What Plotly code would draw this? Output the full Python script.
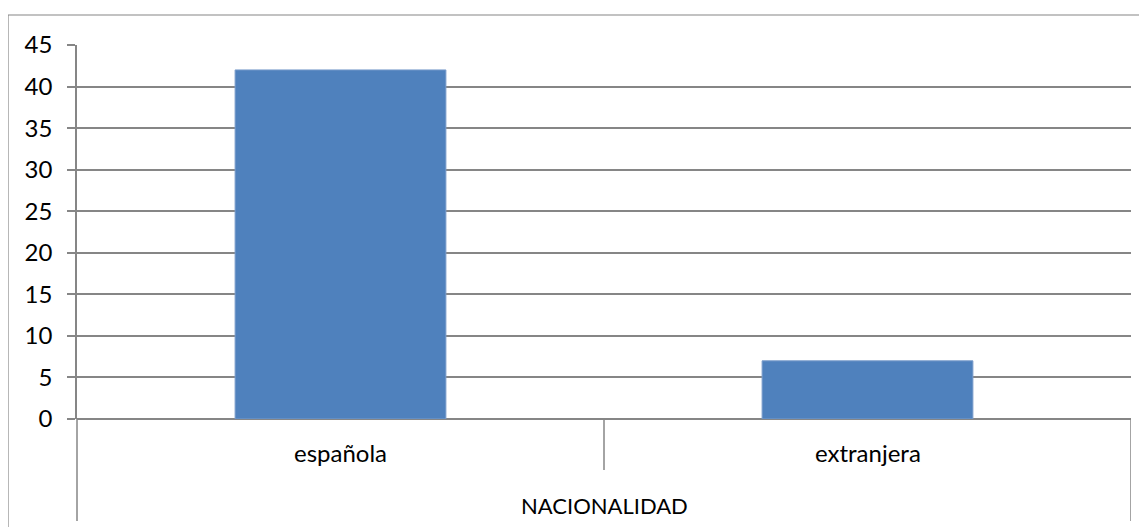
import plotly.graph_objects as go

categories = ["española", "extranjera"]
values = [42, 7]
group_label = "NACIONALIDAD"
y_ticks = [0, 5, 10, 15, 20, 25, 30, 35, 40, 45]

GRID = "#868686"
FONT = dict(family="Lato, Open Sans, sans-serif", size=24, color="#000000")
GROUP_FONT = dict(family="Lato, Open Sans, sans-serif", size=22, color="#000000")

fig = go.Figure(go.Bar(
    x=[0, 1], y=values, width=0.4,
    marker=dict(color="#4F81BD", line=dict(color="#7A9CCB", width=1)),
    hoverinfo="skip",
))

# the page adds an 8px body margin; work in reference pixel coords minus that offset
OFF = 8
W, H = 1147 - OFF, 527 - OFF
L, T = 77 - OFF, 45 - OFF
R = W - (1131 - OFF)
B = H - (419 - OFF)
pw, ph = W - L - R, H - T - B

def px_y(py):
    return (419 - py) / ph

def px_x(px):
    return (px - 77) / pw

shapes = [
    # outer chart border (top and left)
    dict(type="line", xref="paper", yref="paper", x0=px_x(8), x1=px_x(1160), y0=px_y(15), y1=px_y(15),
         line=dict(color=GRID, width=1.2)),
    dict(type="line", xref="paper", yref="paper", x0=px_x(8), x1=px_x(8), y0=px_y(15), y1=px_y(540),
         line=dict(color=GRID, width=1.2)),
    # y axis extension below
    dict(type="line", xref="paper", yref="paper", x0=0, x1=0, y0=0, y1=px_y(521),
         line=dict(color=GRID, width=1.5)),
    # divider between categories
    dict(type="line", xref="x", yref="paper", x0=0.5, x1=0.5, y0=0, y1=px_y(470),
         line=dict(color=GRID, width=1.5)),
    # right edge
    dict(type="line", xref="x", yref="paper", x0=1.5, x1=1.5, y0=0, y1=px_y(521),
         line=dict(color=GRID, width=1.5)),
]

annotations = []
for i, c in enumerate(categories):
    annotations.append(dict(x=i, y=px_y(453), xref="x", yref="paper", text=c, showarrow=False,
                            font=FONT, xanchor="center", yanchor="middle"))
annotations.append(dict(x=0.5, y=px_y(505), xref="x", yref="paper", text=group_label, showarrow=False,
                        font=GROUP_FONT, xanchor="center", yanchor="middle"))

fig.update_layout(
    width=W, height=H,
    margin=dict(l=L, r=R, t=T, b=B, pad=0),
    paper_bgcolor="white", plot_bgcolor="white",
    showlegend=False,
    font=FONT,
    xaxis=dict(range=[-0.5, 1.5], showticklabels=False, showgrid=False, zeroline=False,
               showline=False, ticks="", fixedrange=True),
    yaxis=dict(range=[0, 45], tickvals=y_ticks, ticktext=[str(v) for v in y_ticks],
               showgrid=True, gridcolor=GRID, gridwidth=1.5,
               zeroline=True, zerolinecolor=GRID, zerolinewidth=1.5,
               showline=True, linecolor=GRID, linewidth=1.5,
               ticks="outside", ticklen=8, tickcolor=GRID, tickwidth=1.5,
               ticklabelstandoff=10, tickfont=FONT, fixedrange=True),
    shapes=shapes,
    annotations=annotations,
)

fig.write_html("out.html", config={"displayModeBar": False})
